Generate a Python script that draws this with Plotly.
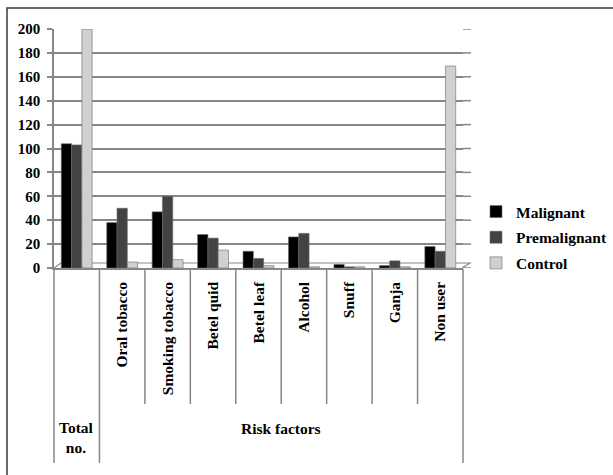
import plotly.graph_objects as go

# Risk factor counts per study group
categories = ["Total no.", "Oral tobacco", "Smoking tobacco", "Betel quid", "Betel leaf",
              "Alcohol", "Snuff", "Ganja", "Non user"]
tick_labels = ["", "Oral tobacco", "Smoking tobacco", "Betel quid", "Betel leaf",
               "Alcohol", "Snuff", "Ganja", "Non user"]
malignant = [104, 38, 47, 28, 14, 26, 3, 2, 18]
premalignant = [103, 50, 60, 25, 8, 29, 1, 6, 14]
control = [200, 5, 7, 15, 2, 1, 1, 1, 169]
y_ticks = list(range(0, 201, 20))

W, H = 613, 475
L, R, T, B = 54, 463, 29, 268  # plot area in pixels
SERIF = "Liberation Serif"
GRID = "#878787"


def px(x):
    return (x - L) / (R - L)


def py(y):
    return (B - y) / (B - T)


fig = go.Figure()
for name, vals, col in [("Malignant", malignant, "#000000"),
                        ("Premalignant", premalignant, "#434343"),
                        ("Control", control, "#d0d0d0")]:
    fig.add_bar(x=categories, y=vals, name=name, marker_color=col,
                marker_line=dict(color="#6a6a6a", width=0.6), legendgroup=name)

shapes = []
# frame around the chart
shapes.append(dict(type="path", xref="paper", yref="paper",
                   path=f"M {px(7)},{py(480)} L {px(7)},{py(8)} L {px(620)},{py(8)}",
                   line=dict(color="#3a3a3a", width=1.5)))
# back wall gridlines run slightly past the front of the floor
for v in y_ticks:
    shapes.append(dict(type="line", xref="paper", yref="y", x0=1, x1=px(471),
                       y0=v, y1=v, line=dict(color=GRID, width=1.5), layer="below"))
# floor edge behind the bars
shapes.append(dict(type="path", xref="paper", yref="paper",
                   path=f"M {px(54)},{py(268)} L {px(61)},{py(263)} L {px(470)},{py(263)} "
                        f"L {px(462)},{py(268)}",
                   line=dict(color=GRID, width=1.2), layer="below"))
# category dividers below the axis
n = len(categories)
for k in range(n + 1):
    bottom = 463 if k in (0, 1, n) else 404
    shapes.append(dict(type="path", xref="paper", yref="paper",
                       path=f"M {k / n},{py(269)} L {k / n},{py(bottom)}",
                       line=dict(color=GRID, width=1.5)))

annotations = [
    dict(text="<b>Total<br>no.</b>", xref="paper", yref="paper", x=0.5 / n, y=py(437),
         xanchor="center", yanchor="middle", showarrow=False,
         font=dict(family=SERIF, size=15.5, color="#000"), align="center"),
    dict(text="<b>Risk factors</b>", xref="paper", yref="paper", x=5 / n, y=py(428),
         xanchor="center", yanchor="middle", showarrow=False,
         font=dict(family=SERIF, size=15.5, color="#000")),
]

fig.update_layout(
    width=W, height=H,
    margin=dict(l=L, r=W - R, t=T, b=H - B, pad=0, autoexpand=False),
    paper_bgcolor="white", plot_bgcolor="white",
    barmode="group", bargap=0.32, bargroupgap=0,
    font=dict(family=SERIF, color="#000"),
    shapes=shapes, annotations=annotations,
    legend=dict(x=px(476), y=py(195), xanchor="left", yanchor="top",
                font=dict(family=SERIF, size=15.5, color="#000", weight="bold"),
                tracegroupgap=2.5, itemwidth=30, bgcolor="rgba(0,0,0,0)"),
    xaxis=dict(tickmode="array", tickvals=categories, ticktext=tick_labels,
               tickangle=-90, tickfont=dict(family=SERIF, size=15.5, color="#000",
                                            weight="bold"),
               showline=True, linecolor=GRID, linewidth=1.5, ticks="",
               showgrid=False, range=[-0.5, n - 0.5], ticklabelstandoff=6),
    yaxis=dict(range=[0, 200], tickvals=y_ticks, showgrid=True, gridcolor=GRID,
               gridwidth=1.5, showline=True, linecolor=GRID, linewidth=1.5,
               ticks="outside", ticklen=5, tickcolor=GRID, tickwidth=1.5,
               tickfont=dict(family=SERIF, size=15, color="#000", weight="bold"),
               zeroline=False, ticklabelstandoff=4),
)

fig.write_html("out.html")
